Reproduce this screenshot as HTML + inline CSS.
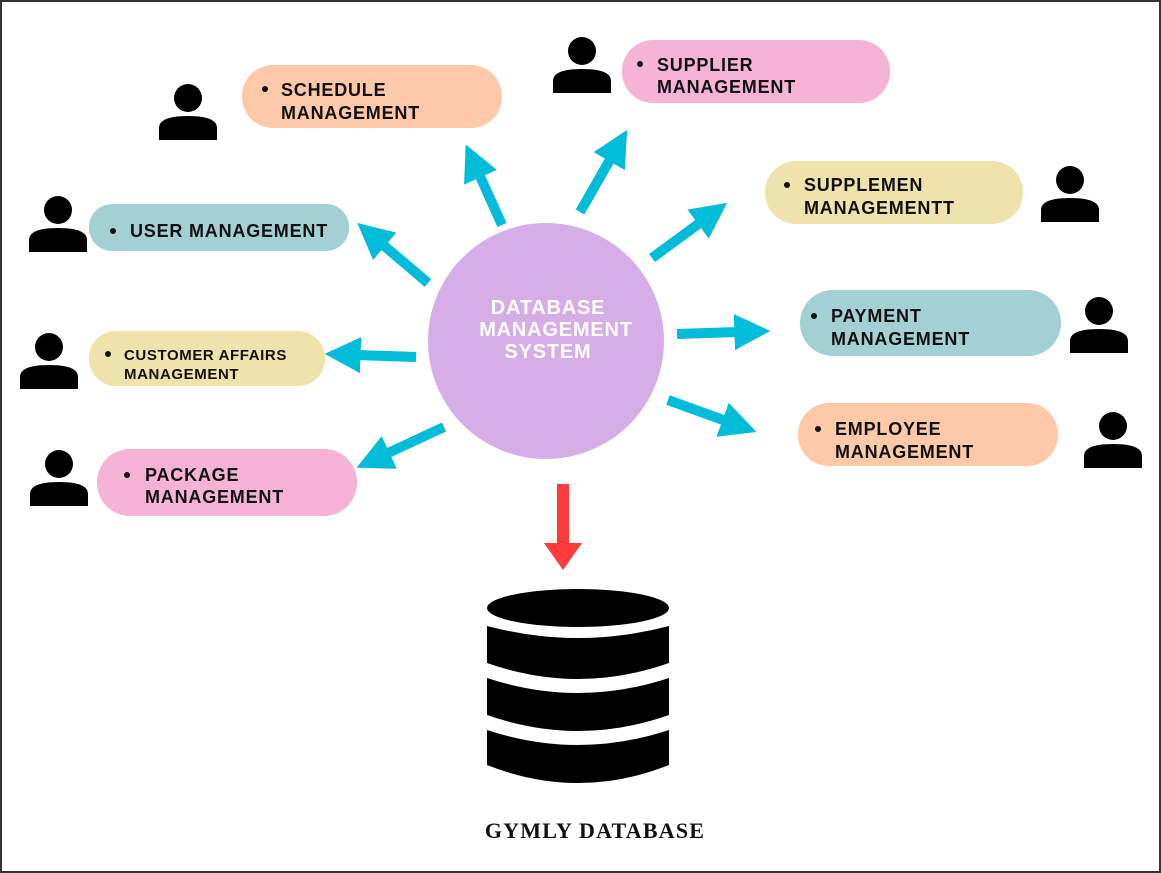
<!DOCTYPE html>
<html><head><meta charset="utf-8"><style>
html,body{margin:0;padding:0;background:#fff;}
svg{display:block;}
.t{font-family:"Liberation Sans",sans-serif;font-weight:bold;font-size:18px;fill:#111;letter-spacing:0.8px;}
.s{font-size:15px;letter-spacing:0.6px;}
.c{font-family:"Liberation Sans",sans-serif;font-weight:bold;font-size:20px;fill:#fff;text-anchor:middle;letter-spacing:0.8px;}
</style></head><body>
<svg width="1161" height="873" viewBox="0 0 1161 873" xmlns="http://www.w3.org/2000/svg">
<defs>
<g id="p"><circle cx="0" cy="14" r="14"/><path d="M-29,56 L-29,44 Q-29,32 0,32 Q29,32 29,44 L29,56 Z"/></g>
<marker id="ah" viewBox="0 0 10 10" refX="1" refY="5" markerWidth="3.6" markerHeight="3.6" orient="auto" markerUnits="strokeWidth"><path d="M0,0 L10,5 L0,10 Z" fill="#00bcd8"/></marker>
</defs>
<rect x="1" y="1" width="1159" height="871" fill="#fff" stroke="#333" stroke-width="2"/>
<rect x="242" y="65" width="260" height="63" rx="31" fill="#fec9a8"/>
<rect x="622" y="40" width="268" height="63" rx="31" fill="#f7b3d6"/>
<rect x="765" y="161" width="258" height="63" rx="31" fill="#eee2ad"/>
<rect x="89" y="204" width="260" height="47" rx="23" fill="#a3d0d3"/>
<rect x="89" y="331" width="236" height="55" rx="27" fill="#eee2ad"/>
<rect x="97" y="449" width="260" height="67" rx="33" fill="#f7b3d6"/>
<rect x="800" y="290" width="261" height="66" rx="33" fill="#a3d0d3"/>
<rect x="798" y="403" width="260" height="63" rx="31" fill="#fec9a8"/>
<g fill="#111">
<circle cx="265" cy="89" r="3"/><circle cx="640" cy="64" r="3"/><circle cx="787" cy="185" r="3"/>
<circle cx="113" cy="231" r="3"/><circle cx="108" cy="354" r="3"/><circle cx="127" cy="475" r="3"/>
<circle cx="814" cy="316" r="3"/><circle cx="818" cy="429" r="3"/>
</g>
<text class="t" x="281" y="96">SCHEDULE</text><text class="t" x="281" y="119">MANAGEMENT</text>
<text class="t" x="657" y="71">SUPPLIER</text><text class="t" x="657" y="93">MANAGEMENT</text>
<text class="t" x="804" y="191">SUPPLEMEN</text><text class="t" x="804" y="214">MANAGEMENTT</text>
<text class="t" x="130" y="237">USER MANAGEMENT</text>
<text class="t s" x="124" y="360">CUSTOMER AFFAIRS</text><text class="t s" x="124" y="379">MANAGEMENT</text>
<text class="t" x="145" y="481">PACKAGE</text><text class="t" x="145" y="503">MANAGEMENT</text>
<text class="t" x="831" y="322">PAYMENT</text><text class="t" x="831" y="345">MANAGEMENT</text>
<text class="t" x="835" y="435">EMPLOYEE</text><text class="t" x="835" y="458">MANAGEMENT</text>
<g fill="#000">
<use href="#p" x="188" y="84"/><use href="#p" x="582" y="37"/><use href="#p" x="1070" y="166"/>
<use href="#p" x="58" y="196"/><use href="#p" x="49" y="333"/><use href="#p" x="59" y="450"/>
<use href="#p" x="1099" y="297"/><use href="#p" x="1113" y="412"/>
</g>
<circle cx="546" cy="341" r="118" fill="#d5aee8"/>
<text class="c" x="548" y="314">DATABASE</text>
<text class="c" x="556" y="336">MANAGEMENT</text>
<text class="c" x="548" y="358">SYSTEM</text>
<g stroke="#00bcd8" stroke-width="10" fill="none" marker-end="url(#ah)">
<line x1="502" y1="225" x2="479" y2="174"/>
<line x1="580" y1="212" x2="611" y2="158"/>
<line x1="652" y1="258" x2="701" y2="222"/>
<line x1="428" y1="283" x2="382" y2="244"/>
<line x1="677" y1="334" x2="738" y2="332"/>
<line x1="416" y1="357" x2="357" y2="355"/>
<line x1="668" y1="400" x2="726" y2="421"/>
<line x1="444" y1="427" x2="386" y2="454"/>
</g>
<rect x="557" y="484" width="12" height="60" fill="#ff3b3b"/>
<path d="M544,543 L582,543 L563,570 Z" fill="#ff3b3b"/>
<g fill="#000">
<ellipse cx="578" cy="608" rx="91" ry="19"/>
<path d="M487,626 Q578,650 669,626 L669,663 Q578,695 487,663 Z"/>
<path d="M487,678 Q578,708 669,678 L669,715 Q578,747 487,715 Z"/>
<path d="M487,730 Q578,760 669,730 L669,765 Q578,801 487,765 Z"/>
</g>
<text x="595" y="838" text-anchor="middle" font-family="'Liberation Serif',serif" font-weight="bold" font-size="22" letter-spacing="1.2" fill="#111">GYMLY DATABASE</text>
</svg>
</body></html>
